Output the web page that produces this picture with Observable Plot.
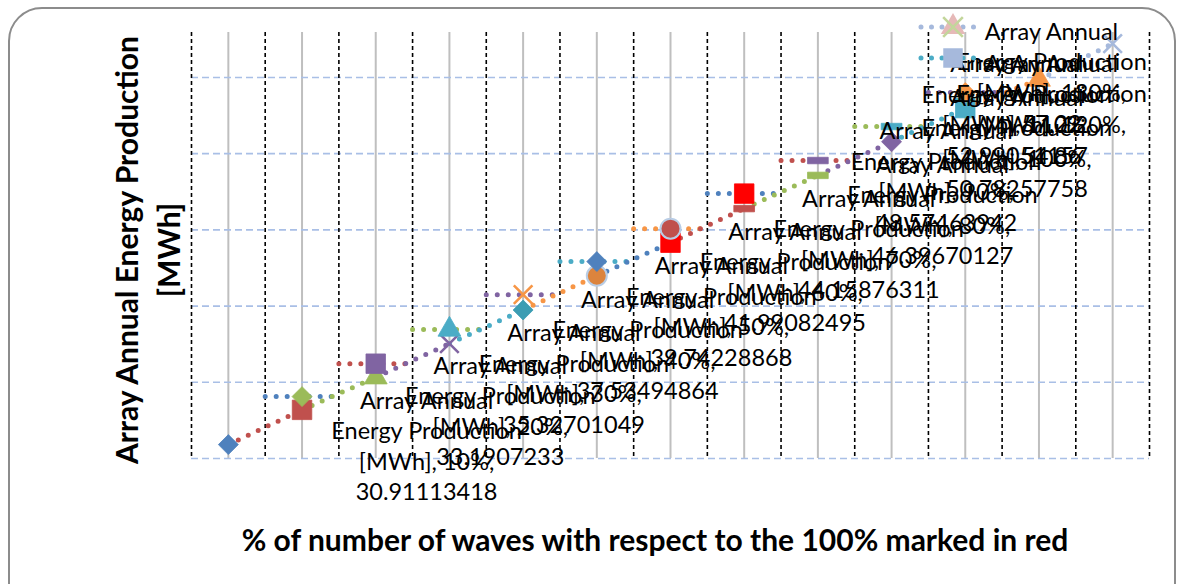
<!DOCTYPE html>
<html>
<head>
<meta charset="utf-8">
<script src="https://cdn.jsdelivr.net/npm/d3@7"></script>
<script src="https://cdn.jsdelivr.net/npm/@observablehq/plot@0.6"></script>
<style>
  body { margin: 0; background: #fff; font-family: Lato, "Open Sans", sans-serif; }
  #wrap { position: relative; width: 1181px; height: 584px; overflow: hidden; background: #fff; }
  #frame { position: absolute; left: 8px; top: 7px; width: 1168px; height: 640px; border: 2px solid #8c8c8c; border-radius: 34px; box-sizing: border-box; }
  #chart { position: absolute; left: 0; top: 0; }
  #ytitle { position: absolute; left: -83px; top: 208px; width: 460px; height: 84px; line-height: 42px;
            transform: rotate(-90deg); transform-origin: 50% 50%; text-align: center;
            font-weight: 700; font-size: 30px; color: #000; white-space: nowrap; }
  #xtitle { position: absolute; left: 155px; top: 521px; width: 1000px; line-height: 36px; text-align: center;
            font-weight: 700; font-size: 30px; color: #000; white-space: nowrap; }
  #legend { position: absolute; left: 0; top: 0; pointer-events: none; }
</style>
</head>
<body>
<div id="wrap">
  <div id="frame"></div>
  <div id="chart"></div>
  <div id="ytitle">Array Annual Energy Production<br>[MWh]</div>
  <div id="xtitle">% of number of waves with respect to the 100% marked in red</div>
</div>
<script>
// ---------------- data ----------------
const categories = ["10%","20%","30%","40%","50%","60%","70%","80%","90%","100%","110%","120%","130%"];
const seriesName = "Array Annual Energy Production [MWh]";

// labelled points (one per category)
const energy = [30.91113418, 33.1907233, 35.32701049, 37.53494864, 39.74228868, 41.99082495,
                44.15876311, 46.39670127, 48.57463942, 50.78257758, 52.99051157, 54.86, 57.22];
const energyMarkers = ["diamond","square","triangle","times","diamond","circle","square","dash","dash","diamond","square","triangle","times"];
const energyMarkerColors = ["#4F81BD","#C0504D","#9BBB59","#8064A2","#3C9DB3","#DC843D","#FF0000","#C0504D","#9BBB59","#8064A2","#4BACC6","#F79646","#A6B9DC"];
const lineColors = ["#4F81BD","#C0504D","#9BBB59","#8064A2","#4BACC6","#F79646","#4F81BD","#C0504D","#9BBB59","#8064A2","#4BACC6","#F79646","#A6B9DC"];

// stepped (upper) points
const stepCategories = ["20%","30%","40%","50%","60%","70%","80%","90%","100%","110%"];
const stepValues = [34.06, 36.22, 38.46, 40.75, 42.92, 45.08, 47.38, 49.55, 51.78, 54.01];
const stepMarkers = ["diamond","square","triangle","times","diamond","circle","square","dash","dash","diamond"];
const stepMarkerColors = ["#9BBB59","#8064A2","#4BACC6","#F79646","#4F81BD","#C0504D","#FF0000","#8064A2","#4BACC6","#F79646"];
const stepLineColors = ["#4F81BD","#C0504D","#9BBB59","#8064A2","#4BACC6","#F79646","#4F81BD","#C0504D","#9BBB59","#8064A2"];

const gridValues = [30, 35, 40, 45, 50, 55];

// ---------------- build tables ----------------
const idx = c => categories.indexOf(c) + 1;
const lower = categories.map((c, k) => ({
  i: k + 1, cat: c, v: energy[k], marker: energyMarkers[k], color: energyMarkerColors[k], line: lineColors[k]
}));
const upper = stepCategories.map((c, k) => ({
  i: idx(c), cat: c, v: stepValues[k], marker: stepMarkers[k], color: stepMarkerColors[k], line: stepLineColors[k]
}));
const diagonals = lower.slice(1).map((d, k) => ({x1: lower[k].i, y1: lower[k].v, x2: d.i, y2: d.v, line: d.line}));
const centers = categories.map((c, k) => k + 1);
const bounds = d3.range(0, categories.length + 1).map(k => k + 0.5);

// ---------------- styles ----------------
const dashSymbol = {
  draw(context, size) {
    const r = Math.sqrt(size / Math.PI);
    context.rect(-r * 1.15, -r * 0.36, r * 2.3, r * 0.72);
  }
};
const symbolStyle = {
  diamond:  {symbol: "diamond2", r: 9, filled: true},
  square:   {symbol: "square",   r: 11, filled: true},
  triangle: {symbol: "triangle", r: 8.5, filled: true},
  circle:   {symbol: "circle",   r: 10, filled: true, outline: "#B9CDE5"},
  times:    {symbol: "times",    r: 8.5, filled: false},
  dash:     {symbol: dashSymbol, r: 9, filled: true}
};
const dotted = {strokeWidth: 5, strokeDasharray: "0,11", strokeLinecap: "round"};

function markerMarks(data) {
  return Object.entries(symbolStyle).map(([name, s]) => {
    const sub = data.filter(d => d.marker === name);
    return s.filled
      ? Plot.dot(sub, {x: "i", y: "v", symbol: s.symbol, r: s.r, fill: "color",
                       stroke: s.outline ? s.outline : "color", strokeWidth: s.outline ? 2 : 0.8})
      : Plot.dot(sub, {x: "i", y: "v", symbol: s.symbol, r: s.r, stroke: "color", strokeWidth: 2.6, fill: "none"});
  });
}

// data labels: "series, category, value", wrapped, placed right of the point
// (kept inside the chart area the way the spreadsheet does)
const labelText = d => `Array Annual\nEnergy Production\n[MWh], ${d.cat},\n${d.v}`;
const labelX = d => Math.min(d.i + 2.69, d.i >= 12 ? 12.17 : d.i >= 10 ? 11.7 : 10.74);
const labelY = d => d.i >= 12 ? Math.min(d.v, 55.1 - (13 - d.i) * 2.1) : d.v;

const chart = Plot.plot({
  width: 1181,
  height: 584,
  marginTop: 32,
  marginBottom: 126,
  marginLeft: 191,
  marginRight: 32,
  x: {type: "linear", domain: [0.5, 13.5], axis: null},
  y: {type: "linear", domain: [30, 57.95], axis: null},
  color: {type: "identity"},
  style: {fontFamily: "Lato, 'Open Sans', sans-serif", background: "transparent", overflow: "visible"},
  marks: [
    Plot.ruleX(centers, {stroke: "#bfbfbf", strokeWidth: 2}),
    Plot.ruleY(gridValues, {stroke: "#a9bfe6", strokeWidth: 1.6, strokeDasharray: "7,4"}),
    Plot.ruleX(bounds, {stroke: "#000", strokeWidth: 1.6, strokeDasharray: "4,3"}),
    Plot.link(upper, {x1: d => d.i - 0.5, x2: d => d.i + 0.45, y1: "v", y2: "v", stroke: "line", ...dotted}),
    Plot.link(diagonals, {x1: "x1", y1: "y1", x2: "x2", y2: "y2", stroke: "line", ...dotted}),
    ...markerMarks(lower),
    ...markerMarks(upper),
    Plot.text(lower, {
      x: labelX,
      y: labelY,
      text: labelText,
      fontSize: 23.5,
      lineHeight: 1.3,
      fill: "#000",
      textAnchor: "middle",
      lineAnchor: "middle"
    })
  ]
});
document.getElementById("chart").appendChild(chart);

// ---------------- legend keys (top right, text hidden under the labels) ----------------
const legendEntries = [
  {row: 0, line: "#A6B9DC", markers: [["triangle", "#E6B9B8"], ["times", "#C3D69B"]]},
  {row: 1, line: "#4BACC6", markers: [["square", "#A6B9DC"]]}
];
const leg = d3.select("#wrap").append("svg").attr("id", "legend").attr("width", 1181).attr("height", 584);
const symMap = {triangle: d3.symbolTriangle, times: d3.symbolTimes, square: d3.symbolSquare};
legendEntries.forEach(e => {
  const y = 27 + e.row * 31;
  leg.append("line").attr("x1", 921).attr("x2", 984).attr("y1", y).attr("y2", y)
     .attr("stroke", e.line).attr("stroke-width", 5).attr("stroke-dasharray", "0,10.5").attr("stroke-linecap", "round");
  e.markers.forEach(([m, c]) => {
    const r = m === "square" ? 11 : 9;
    const p = leg.append("path").attr("transform", `translate(953,${y})`)
      .attr("d", d3.symbol(symMap[m], Math.PI * r * r)());
    if (m === "times") p.attr("fill", "none").attr("stroke", c).attr("stroke-width", 2.6);
    else p.attr("fill", c);
  });
});
</script>
</body>
</html>
